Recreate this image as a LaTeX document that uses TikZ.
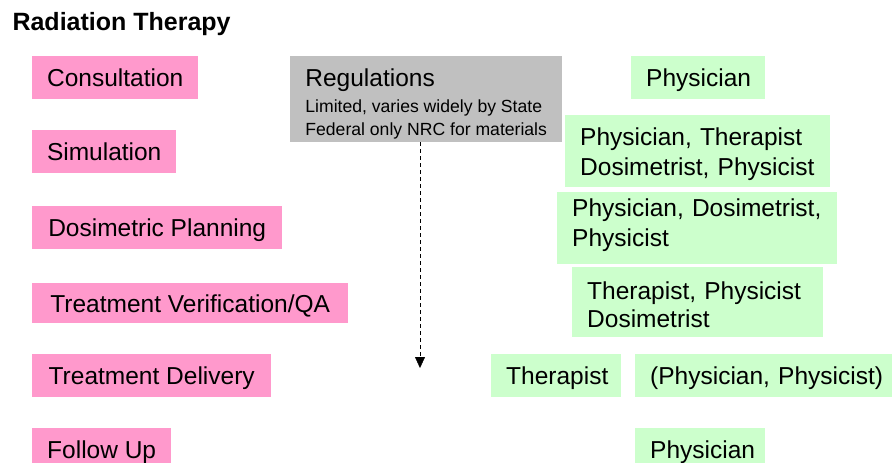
\documentclass[tikz,border=0pt]{standalone}
\usepackage{fontspec}
\setmainfont{Liberation Sans}
\definecolor{stagepink}{HTML}{FF99CC}
\definecolor{staffgreen}{HTML}{CCFFCC}
\definecolor{reggray}{HTML}{C0C0C0}
\usetikzlibrary{arrows.meta, positioning}

\begin{document}
\begin{tikzpicture}[x=1pt, y=-1pt,
    every node/.style={font=\fontsize{24.5}{30}\selectfont, text=black}]
  \tikzset{stagebox/.style={fill=stagepink, anchor=north west, inner xsep=14pt,
             inner ysep=0pt, minimum height=43pt, align=left,
             text height=18pt, text depth=0pt},
           staffbox/.style={fill=staffgreen, anchor=north west, inner xsep=15pt,
             inner ysep=0pt, align=left, text width=#1},
           oneline/.style={text height=18pt, text depth=0pt, minimum height=43pt}}
  \useasboundingbox (0,0) rectangle (892,463);

  \node[anchor=west, font=\fontsize{25}{30}\selectfont\bfseries] (title) at (9,24) {Radiation Therapy};

  % stages of treatment
  \node[stagebox, minimum width=166pt] (consult)  at (32,56)  {Consultation};
  \node[stagebox, minimum width=144pt] (sim)      at (32,130) {Simulation};
  \node[stagebox, minimum width=250pt] (plan)     at (32,206) {Dosimetric Planning};
  \node[stagebox, minimum width=316pt, minimum height=40pt] (verify) at (32,283) {Treatment Verification/QA};
  \node[stagebox, minimum width=239pt] (deliver)  at (32,354) {Treatment Delivery};
  \node[stagebox, minimum width=139pt] (followup) at (32,428) {Follow Up};

  % regulations
  \node[fill=reggray, anchor=north west, minimum width=272pt, minimum height=86pt,
        inner xsep=15pt, inner ysep=0pt, align=left,
        text height=73.5pt, text depth=0pt] (regs) at (290,56)
    {Regulations\\[-4pt]
     \fontsize{17.6}{22}\selectfont Limited, varies widely by State\\[-7pt]
     \fontsize{17.6}{22}\selectfont Federal only NRC for materials};
  \coordinate (regend) at (420,368);
  \draw[dashed, dash pattern=on 4pt off 3pt, thin,
        -{Triangle[length=11pt, width=10pt]}] (regs.south -| regend) -- (regend);

  % staff involved
  \node[staffbox=104pt, oneline] (docA)  at (631,56)  {Physician};
  \node[staffbox=235pt, minimum height=72pt, text height=19pt, text depth=30pt] (teamB) at (565,115) {Physician, Therapist\\Dosimetrist, Physicist};
  \node[staffbox=250pt, minimum height=72pt, text height=17.5pt, text depth=41pt] (teamC) at (557,192) {Physician, Dosimetrist,\\Physicist};
  \node[staffbox=221pt, minimum height=70pt, text height=22pt, text depth=28pt] (teamD) at (572,267) {Therapist, Physicist\\[-2pt]Dosimetrist};
  \node[staffbox=100pt, oneline] (therE) at (491,354) {Therapist};
  \node[staffbox=260pt, oneline] (teamF) at (635,354) {(Physician, Physicist)};
  \node[staffbox=100pt, oneline] (docG)  at (635,428) {Physician};
\end{tikzpicture}
\end{document}
